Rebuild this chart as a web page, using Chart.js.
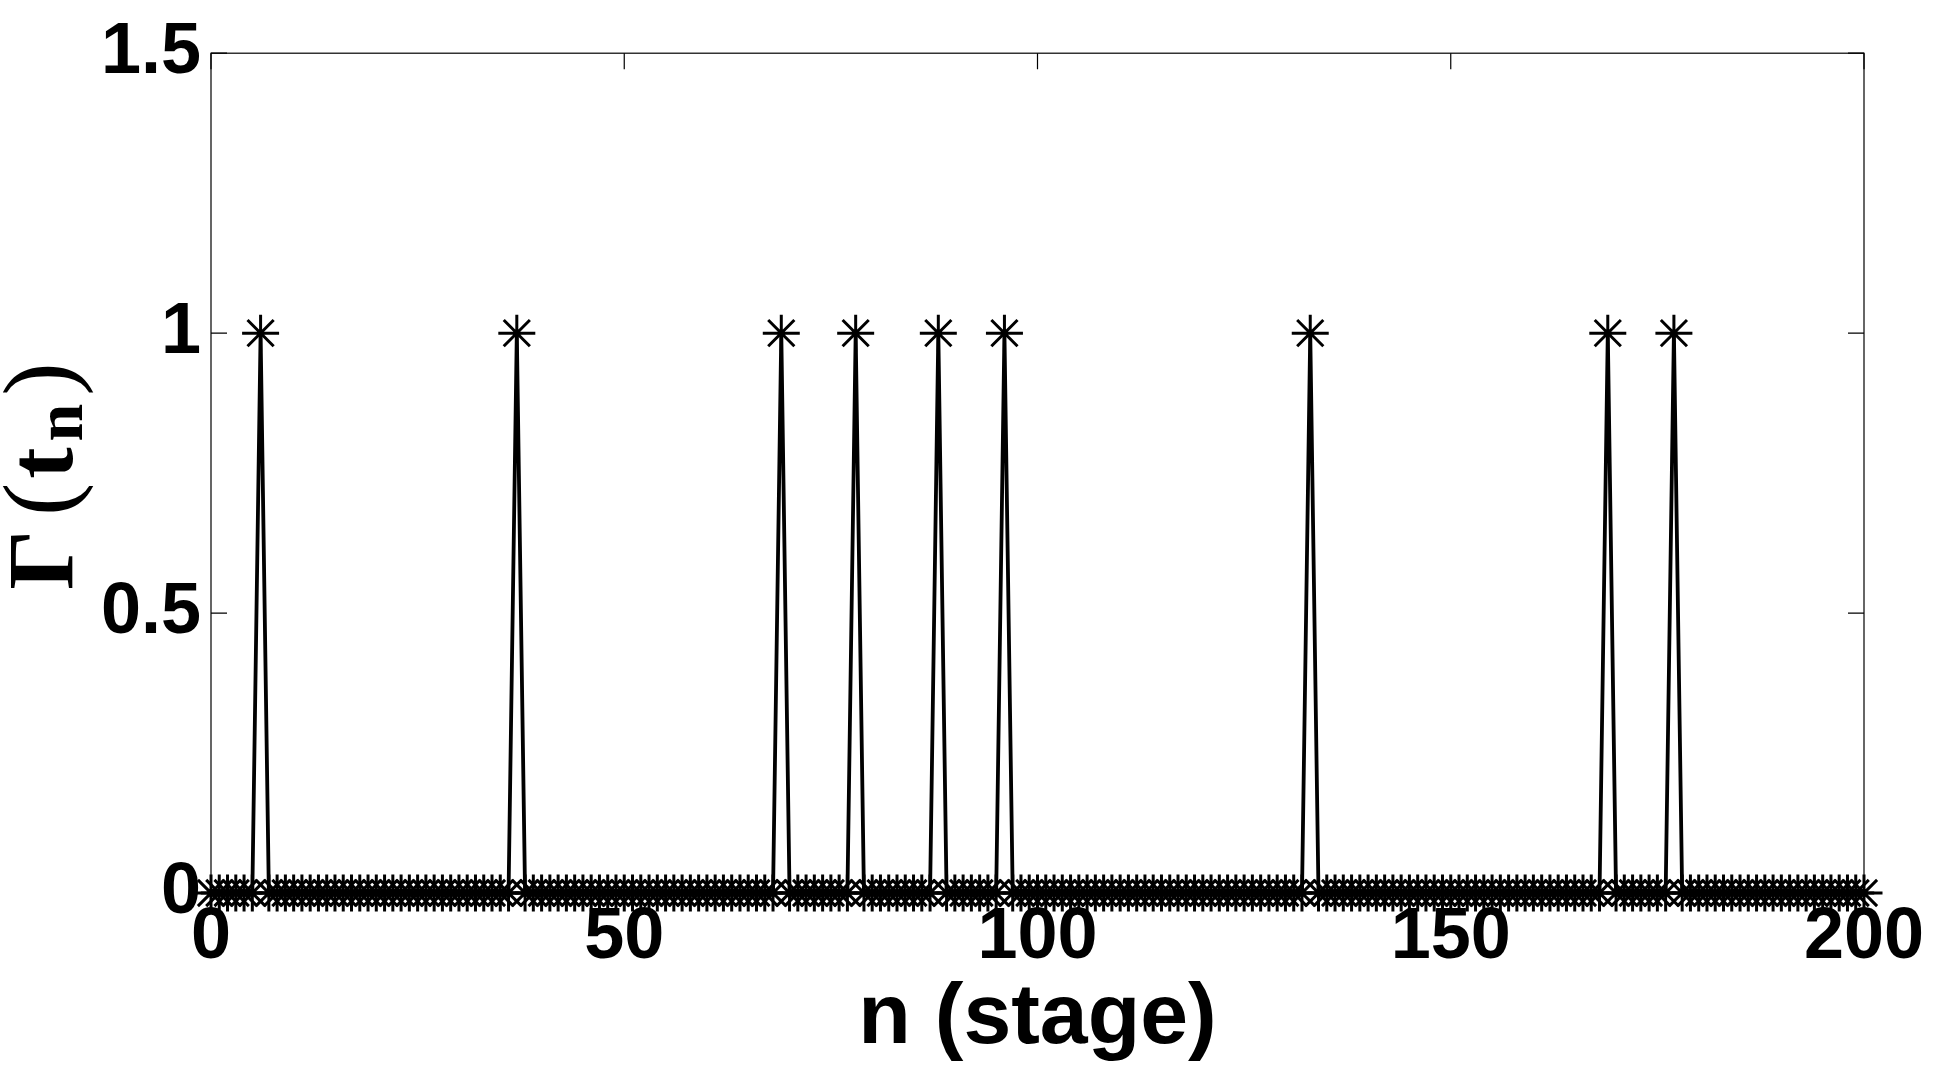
<!DOCTYPE html>
<html>
<head>
<meta charset="utf-8">
<script src="https://cdn.jsdelivr.net/npm/chart.js@4/dist/chart.umd.min.js"></script>
<style>
  html, body { margin: 0; padding: 0; background: #fff; }
  #wrap { width: 1936px; height: 1065px; }
</style>
</head>
<body>
<div id="wrap"><canvas id="gammaChart" width="1936" height="1065"></canvas></div>
<script>
// Gamma(t_n) per stage, n = 0..200
const gammaValues = [
  0, 0, 0, 0, 0, 0, 1, 0, 0, 0,
  0, 0, 0, 0, 0, 0, 0, 0, 0, 0,
  0, 0, 0, 0, 0, 0, 0, 0, 0, 0,
  0, 0, 0, 0, 0, 0, 0, 1, 0, 0,
  0, 0, 0, 0, 0, 0, 0, 0, 0, 0,
  0, 0, 0, 0, 0, 0, 0, 0, 0, 0,
  0, 0, 0, 0, 0, 0, 0, 0, 0, 1,
  0, 0, 0, 0, 0, 0, 0, 0, 1, 0,
  0, 0, 0, 0, 0, 0, 0, 0, 1, 0,
  0, 0, 0, 0, 0, 0, 1, 0, 0, 0,
  0, 0, 0, 0, 0, 0, 0, 0, 0, 0,
  0, 0, 0, 0, 0, 0, 0, 0, 0, 0,
  0, 0, 0, 0, 0, 0, 0, 0, 0, 0,
  0, 0, 0, 1, 0, 0, 0, 0, 0, 0,
  0, 0, 0, 0, 0, 0, 0, 0, 0, 0,
  0, 0, 0, 0, 0, 0, 0, 0, 0, 0,
  0, 0, 0, 0, 0, 0, 0, 0, 0, 1,
  0, 0, 0, 0, 0, 0, 0, 1, 0, 0,
  0, 0, 0, 0, 0, 0, 0, 0, 0, 0,
  0, 0, 0, 0, 0, 0, 0, 0, 0, 0,
  0
];
// stage index of each value
const stages = gammaValues.map((v, i) => i);

const xTicks = [0, 50, 100, 150, 200];
const yTicks = [0, 0.5, 1, 1.5];
const xTitle = 'n (stage)';

const tickFont = { family: '"Liberation Sans", Arial, sans-serif', size: 72, weight: 'bold' };

// box around the plot + inward tick marks (MATLAB style)
const framePlugin = {
  id: 'frame',
  afterDraw(chart) {
    const ctx = chart.ctx;
    const a = chart.chartArea;
    const xs = chart.scales.x;
    const ys = chart.scales.y;
    const len = 16;
    ctx.save();
    ctx.strokeStyle = '#000';
    ctx.lineWidth = 1.2;
    ctx.strokeRect(a.left, a.top, a.right - a.left, a.bottom - a.top);
    ctx.beginPath();
    yTicks.forEach(v => {
      const y = ys.getPixelForValue(v);
      ctx.moveTo(a.left, y); ctx.lineTo(a.left + len, y);
      ctx.moveTo(a.right, y); ctx.lineTo(a.right - len, y);
    });
    xTicks.forEach(v => {
      const x = xs.getPixelForValue(v);
      ctx.moveTo(x, a.top); ctx.lineTo(x, a.top + len);
      ctx.moveTo(x, a.bottom); ctx.lineTo(x, a.bottom - len);
    });
    ctx.stroke();
    ctx.restore();
  }
};

// y title with subscript: Γ(t_n)
const yTitlePlugin = {
  id: 'yTitle',
  afterDraw(chart) {
    const ctx = chart.ctx;
    const a = chart.chartArea;
    const cy = (a.top + a.bottom) / 2 + 3;
    const serif = '"Liberation Serif", "DejaVu Serif", serif';
    const parts = [
      { t: 'Γ', font: 'bold 94px ' + serif, dy: 0, gap: 14 },
      { t: '(', font: '100px ' + serif, dy: 0, gap: 4 },
      { t: 't', font: 'bold 94px ' + serif, dy: 0, gap: 6 },
      { t: 'n', font: 'bold 68px ' + serif, dy: 10, gap: 8 },
      { t: ')', font: '100px ' + serif, dy: 0, gap: 0 }
    ];
    ctx.save();
    ctx.fillStyle = '#000';
    ctx.textBaseline = 'alphabetic';
    let total = 0;
    parts.forEach(p => {
      ctx.font = p.font;
      p.w = ctx.measureText(p.t).width;
      total += p.w + p.gap;
    });
    ctx.translate(72, cy);
    ctx.rotate(-Math.PI / 2);
    let x = -total / 2;
    parts.forEach(p => {
      ctx.font = p.font;
      ctx.fillText(p.t, x, p.dy);
      x += p.w + p.gap;
    });
    ctx.restore();
  }
};

const ctx = document.getElementById('gammaChart').getContext('2d');
const chart = new Chart(ctx, {
  type: 'line',
  data: {
    datasets: [{
      data: stages.map((n, i) => ({ x: n, y: gammaValues[i] })),
      borderColor: '#000',
      borderWidth: 3.8,
      tension: 0,
      pointStyle: 'star',
      pointRadius: 18.5,
      pointBorderWidth: 3,
      pointBorderColor: '#000',
      pointBackgroundColor: '#000',
      clip: false
    }]
  },
  options: {
    responsive: false,
    animation: false,
    layout: { padding: { left: 0, top: 51, right: 72, bottom: 0 } },
    plugins: {
      legend: { display: false },
      tooltip: { enabled: false }
    },
    scales: {
      x: {
        type: 'linear',
        min: 0,
        max: 200,
        afterBuildTicks(scale) { scale.ticks = xTicks.map(v => ({ value: v })); },
        afterFit(scale) { scale.height = 172; },
        grid: { display: false, drawTicks: false },
        border: { display: false },
        ticks: { color: '#000', font: tickFont, padding: 2, maxRotation: 0 },
        title: {
          display: true,
          text: xTitle,
          color: '#000',
          font: { family: '"Liberation Sans", Arial, sans-serif', size: 86, weight: 'bold' },
          padding: { top: 0, bottom: -6 }
        }
      },
      y: {
        type: 'linear',
        min: 0,
        max: 1.5,
        afterBuildTicks(scale) { scale.ticks = yTicks.map(v => ({ value: v })); },
        afterFit(scale) { scale.width = 211; },
        grid: { display: false, drawTicks: false },
        border: { display: false },
        ticks: {
          color: '#000',
          font: tickFont,
          padding: 10,
          callback: value => String(value)
        }
      }
    }
  },
  plugins: [framePlugin, yTitlePlugin]
});
</script>
</body>
</html>
